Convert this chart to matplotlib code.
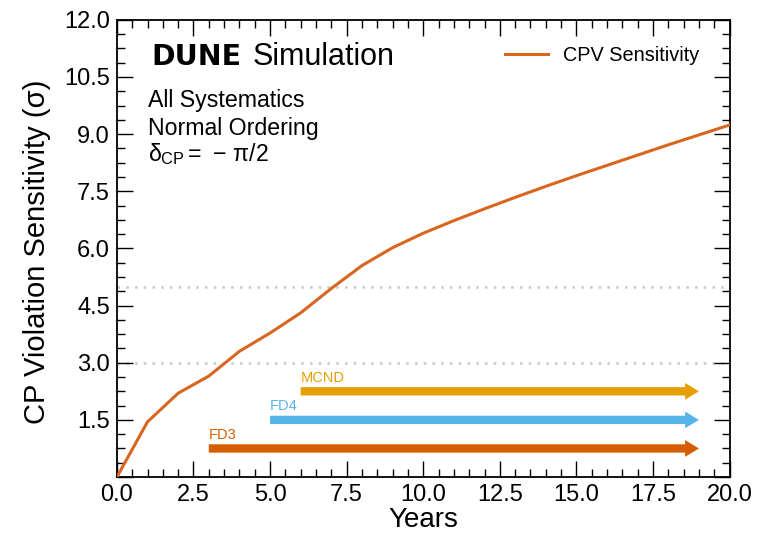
import matplotlib
matplotlib.use("Agg")
import matplotlib.pyplot as plt
from matplotlib.ticker import MultipleLocator, AutoMinorLocator, FuncFormatter

plt.rcParams['font.family'] = ['Liberation Sans', 'DejaVu Sans']
plt.rcParams['mathtext.fontset'] = 'custom'
plt.rcParams['mathtext.rm'] = 'Liberation Sans'
plt.rcParams['mathtext.it'] = 'Liberation Sans'

years = [0, 1, 2, 3, 4, 5, 6, 7, 8, 9, 10, 11, 12, 13, 14, 15, 16, 17, 18, 19, 20]
sensitivity = [0.0, 1.45, 2.2, 2.65, 3.3, 3.78, 4.31, 4.95, 5.55, 6.02, 6.40,
               6.73, 7.04, 7.34, 7.63, 7.91, 8.18, 8.45, 8.72, 8.98, 9.24]
ref_lines = [3.0, 5.0]
arrow_labels = ["MCND", "FD4", "FD3"]
arrow_start = [6, 5, 3]
arrow_end = [19, 19, 19]
arrow_y = [2.25, 1.5, 0.75]
arrow_colors = ["#E69F00", "#56B4E9", "#D55E00"]
curve_color = "#D9661F"

fig = plt.figure(figsize=(7.64, 5.36), dpi=100)
ax = fig.add_axes([0.153, 0.110, 0.802, 0.853])

for r in ref_lines:
    ax.axhline(r, color="#c8c8c8", lw=1.8, ls=(0, (1, 2.5)), zorder=1)

ax.plot(years, sensitivity, color=curve_color, lw=2.2, label="CPV Sensitivity", zorder=3)

for lab, s, e, y, c in zip(arrow_labels, arrow_start, arrow_end, arrow_y, arrow_colors):
    ax.annotate("", xy=(e, y), xytext=(s, y),
                arrowprops=dict(arrowstyle="simple,head_width=0.6,head_length=0.5,tail_width=0.3",
                                color=c, shrinkA=0, shrinkB=0, mutation_scale=20, lw=0))
    ax.text(s, y + 0.17, lab, color=c, fontsize=10.5, ha="left", va="bottom")

ax.set_xlim(0, 20)
ax.set_ylim(0, 12)
ax.xaxis.set_major_locator(MultipleLocator(2.5))
ax.xaxis.set_minor_locator(AutoMinorLocator(5))
ax.yaxis.set_major_locator(MultipleLocator(1.5))
ax.yaxis.set_minor_locator(AutoMinorLocator(4))
ax.tick_params(which="both", direction="in", top=True, right=True, labelsize=17)
ax.tick_params(which="major", length=11.5, width=1.0, pad=5)
ax.tick_params(which="minor", length=5.5, width=1.0)
ax.xaxis.set_major_formatter(FuncFormatter(lambda v, p: f"{v:.1f}"))
ax.yaxis.set_major_formatter(FuncFormatter(lambda v, p: "" if abs(v) < 1e-9 else f"{v:.1f}"))
for sp in ax.spines.values():
    sp.set_linewidth(1.3)

ax.set_xlabel("Years", fontsize=20)
ax.xaxis.set_label_coords(0.5, -0.066)
ax.set_ylabel("CP Violation Sensitivity (σ)", fontsize=21)
ax.yaxis.set_label_coords(-0.108, 0.493)

ax.text(0.057, 0.9015, "DUNE", transform=ax.transAxes, fontsize=20.5, fontweight="bold",
        va="baseline", ha="left", family="DejaVu Sans")
ax.text(0.2215, 0.9015, "Simulation", transform=ax.transAxes, fontsize=22, va="baseline", ha="left")
ax.text(0.05, 0.810, "All Systematics", transform=ax.transAxes, fontsize=16.7, va="baseline")
ax.text(0.05, 0.748, "Normal Ordering", transform=ax.transAxes, fontsize=16.7, va="baseline")
ax.text(0.05, 0.690, r"$\delta_{\rm CP}=\,-\,\pi/2$", transform=ax.transAxes, fontsize=16.7,
        va="baseline")

leg = ax.legend(loc="center left", frameon=False, fontsize=14.3, handlelength=2.17,
                handletextpad=0.75, borderpad=0, borderaxespad=0,
                bbox_to_anchor=(0.633, 0.922))

fig.savefig("out.png", dpi=100)
